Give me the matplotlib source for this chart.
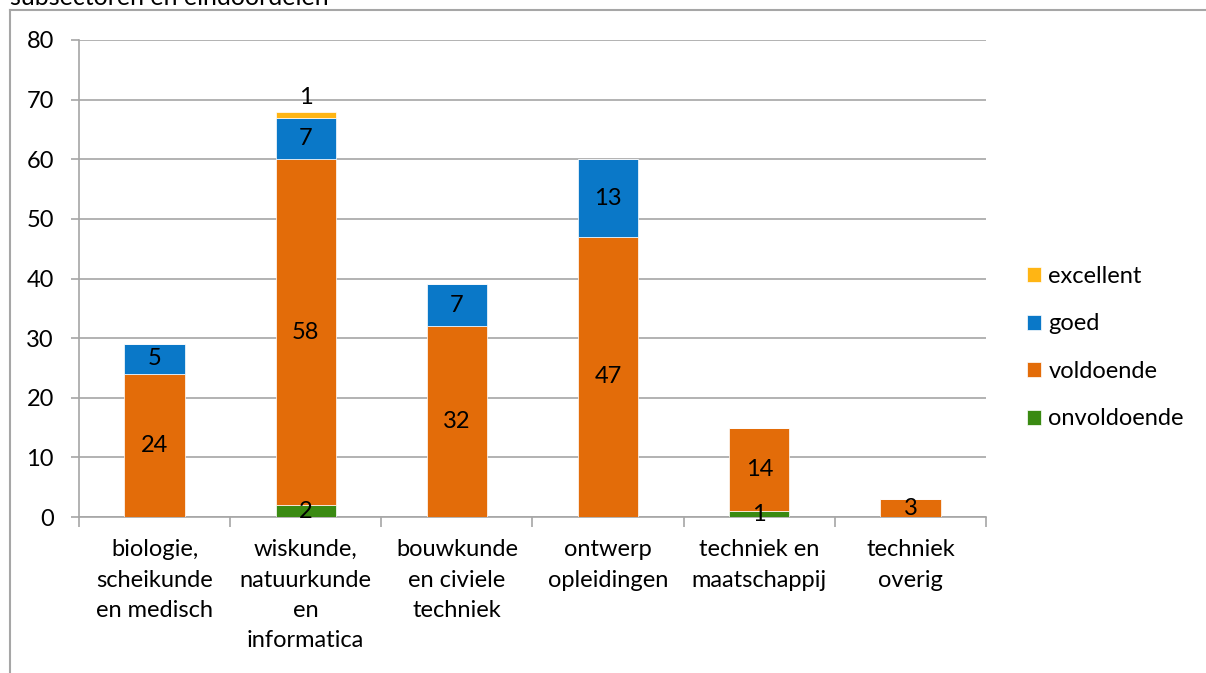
import matplotlib.pyplot as plt
from matplotlib.lines import Line2D
import numpy as np

categories = ["biologie,\nscheikunde\nen medisch",
              "wiskunde,\nnatuurkunde\nen\ninformatica",
              "bouwkunde\nen civiele\ntechniek",
              "ontwerp\nopleidingen",
              "techniek en\nmaatschappij",
              "techniek\noverig"]
onvoldoende = [0, 2, 0, 0, 1, 0]
voldoende = [24, 58, 32, 47, 14, 3]
goed = [5, 7, 7, 13, 0, 0]
excellent = [0, 1, 0, 0, 0, 0]

series = [("onvoldoende", onvoldoende, "#3A8A12"),
          ("voldoende", voldoende, "#E36C09"),
          ("goed", goed, "#0A78C8"),
          ("excellent", excellent, "#FFB514")]

plt.rcParams['font.family'] = ['Lato', 'DejaVu Sans']
FS = 17

fig = plt.figure(figsize=(12.06, 6.73), dpi=100)
ax = fig.add_axes([79/1206, 1 - 517/673, (986 - 79)/1206, (517 - 40)/673])

x = np.arange(len(categories))
bottom = np.zeros(len(categories))
handles = []
for name, vals, col in series:
    vals = np.array(vals, dtype=float)
    b = ax.bar(x, vals, 0.4, bottom=bottom, color=col, edgecolor='white',
               linewidth=0.5, label=name, zorder=3)
    handles.append(b)
    for xi, v, bt in zip(x, vals, bottom):
        if v > 0:
            yy = bt + v / 2
            if name == "excellent":
                yy = bt + v + 2.3
            ax.text(xi, yy, f"{int(v)}", ha='center', va='center',
                    fontsize=FS, color='black', zorder=4)
    bottom += vals

ax.set_ylim(0, 80)
ax.set_xlim(-0.5, len(categories) - 0.5)
ax.set_yticks(range(0, 81, 10))
ax.yaxis.grid(True, color='#A6A6A6', linewidth=1.2, zorder=0)
ax.tick_params(axis='y', length=6, width=1.2, color='#A6A6A6', labelsize=FS, pad=12)

ax.set_xticks(np.arange(-0.5, len(categories)), labels=[""] * (len(categories) + 1))
ax.set_xticks(x, labels=categories, minor=True)
ax.tick_params(axis='x', which='major', length=7, width=1.2, color='#A6A6A6', direction='out')
ax.tick_params(axis='x', which='minor', length=0, labelsize=FS, pad=16)
for lab in ax.get_xticklabels(minor=True):
    lab.set_linespacing(1.55)

for s in ['top', 'right']:
    ax.spines[s].set_visible(False)
for s in ['left', 'bottom']:
    ax.spines[s].set_color('#A6A6A6')
    ax.spines[s].set_linewidth(1.2)

leg_order = [3, 2, 1, 0]
ax.legend([handles[i] for i in leg_order], [series[i][0] for i in leg_order],
          loc='center left', bbox_to_anchor=(1.035, 0.355), frameon=False,
          fontsize=FS, handlelength=0.6, handleheight=0.6, handletextpad=0.3,
          labelspacing=1.12, borderaxespad=0)

# chart area border (cut off at right and bottom)
fig.add_artist(Line2D([10/1206, 10/1206], [1 - 10/673, 0], transform=fig.transFigure,
                      color='#A6A6A6', linewidth=1.5))
fig.add_artist(Line2D([10/1206, 1], [1 - 10/673, 1 - 10/673], transform=fig.transFigure,
                      color='#A6A6A6', linewidth=1.5))
fig.text(10 / 1206, 1 - 5/673, "subsectoren en eindoordelen", fontsize=FS + 1,
         ha='left', va='baseline')

fig.savefig("out.png", dpi=100)
